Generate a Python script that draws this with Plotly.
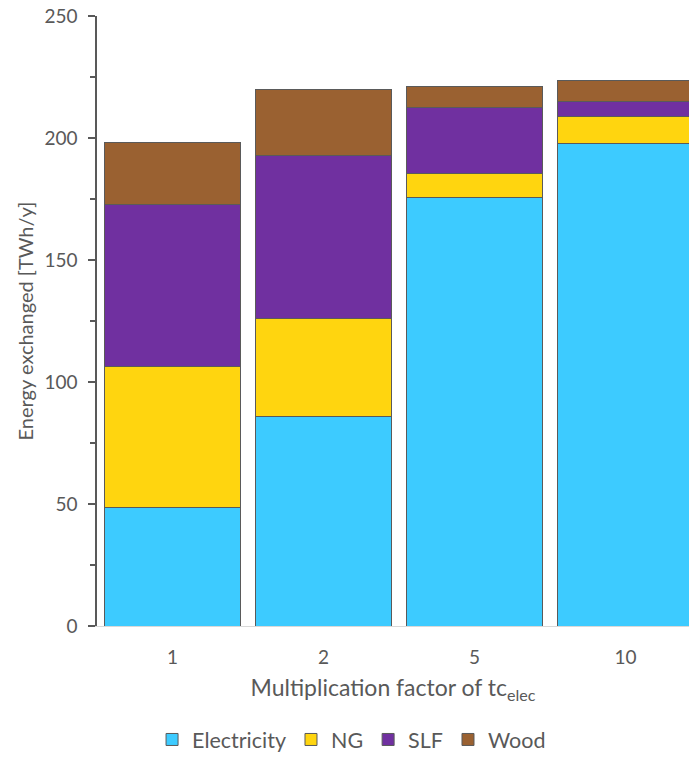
import plotly.graph_objects as go

categories = ["1", "2", "5", "10"]
electricity = [48.5, 86.0, 175.6, 197.8]
ng = [57.8, 40.0, 9.8, 10.9]
slf = [66.6, 67.0, 26.9, 6.4]
wood = [25.3, 26.8, 8.9, 8.5]
y_ticks = [0, 50, 100, 150, 200, 250]

series = [
    ("Electricity", electricity, "#3DCBFF"),
    ("NG", ng, "#FFD50F"),
    ("SLF", slf, "#7030A0"),
    ("Wood", wood, "#9A6131"),
]

FONT = "Lato"
GRAY = "#595959"

fig = go.Figure()
for name, vals, col in series:
    fig.add_trace(go.Bar(
        x=categories, y=vals, name=name,
        marker=dict(color=col, line=dict(color="#5a5a5a", width=1)),
    ))

fig.update_layout(
    barmode="stack",
    bargap=0.1,
    width=689, height=760,
    margin=dict(l=97, r=0, t=16, b=131),
    plot_bgcolor="white", paper_bgcolor="white",
    font=dict(family=FONT, color=GRAY, size=19),
    legend=dict(
        orientation="h", x=0.43, xanchor="center", y=-0.187, yanchor="middle",
        font=dict(family=FONT, size=21.5, color=GRAY),
        traceorder="normal",
    ),
    xaxis=dict(
        type="category", range=[-0.5, 3.42],
        showline=True, linecolor="#D9D9D9", linewidth=1,
        ticks="", showgrid=False, ticklabelstandoff=14,
        tickfont=dict(size=19, color=GRAY),
        title=dict(text="Multiplication factor of tc<sub>elec</sub>",
                   font=dict(size=23, color=GRAY), standoff=13),
    ),
    yaxis=dict(
        range=[0, 250], tickvals=y_ticks,
        showline=True, linecolor=GRAY, linewidth=1.5,
        ticks="outside", ticklen=7, tickcolor=GRAY, tickwidth=1.5,
        minor=dict(dtick=25, ticks="outside", ticklen=5, tickcolor=GRAY, tickwidth=1.5),
        showgrid=False, zeroline=False, ticklabelstandoff=7,
        tickfont=dict(size=19, color=GRAY),
        title=dict(text="Energy exchanged [TWh/y]", font=dict(size=20, color=GRAY), standoff=5),
    ),
)

fig.write_html("out.html", config={"displayModeBar": False},
               post_script="document.body.style.margin='0';")
